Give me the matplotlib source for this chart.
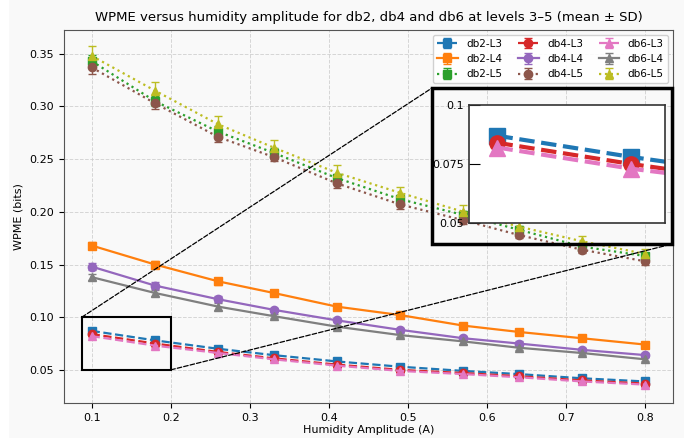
import matplotlib
matplotlib.use("Agg")
import matplotlib.pyplot as plt
from matplotlib.patches import Rectangle, ConnectionPatch

# humidity amplitudes
amps = [0.1, 0.18, 0.26, 0.33, 0.41, 0.49, 0.57, 0.64, 0.72, 0.8]

# mean WPME per wavelet / level
db2_L3 = [0.087, 0.078, 0.070, 0.064, 0.058, 0.053, 0.049, 0.046, 0.042, 0.039]
db2_L4 = [0.168, 0.150, 0.134, 0.123, 0.110, 0.102, 0.092, 0.086, 0.080, 0.074]
db2_L5 = [0.343, 0.305, 0.276, 0.256, 0.232, 0.212, 0.197, 0.183, 0.167, 0.158]
db4_L3 = [0.084, 0.075, 0.067, 0.061, 0.055, 0.050, 0.047, 0.044, 0.040, 0.037]
db4_L4 = [0.148, 0.130, 0.117, 0.107, 0.097, 0.088, 0.080, 0.075, 0.069, 0.064]
db4_L5 = [0.337, 0.303, 0.271, 0.252, 0.227, 0.207, 0.192, 0.178, 0.164, 0.153]
db6_L3 = [0.082, 0.073, 0.066, 0.060, 0.054, 0.049, 0.046, 0.043, 0.039, 0.036]
db6_L4 = [0.138, 0.123, 0.110, 0.101, 0.091, 0.083, 0.077, 0.071, 0.066, 0.060]
db6_L5 = [0.348, 0.315, 0.283, 0.261, 0.237, 0.218, 0.200, 0.186, 0.172, 0.160]

# standard deviations
sd_L3 = [0.002, 0.002, 0.002, 0.002, 0.002, 0.002, 0.002, 0.002, 0.002, 0.002]
sd_L4 = [0.003, 0.003, 0.003, 0.002, 0.002, 0.002, 0.002, 0.002, 0.002, 0.002]
sd_db2_L5 = [0.006, 0.005, 0.005, 0.005, 0.004, 0.004, 0.004, 0.004, 0.003, 0.003]
sd_db4_L5 = [0.006, 0.005, 0.005, 0.004, 0.004, 0.004, 0.004, 0.003, 0.003, 0.003]
sd_db6_L5 = [0.009, 0.008, 0.008, 0.007, 0.007, 0.006, 0.006, 0.005, 0.005, 0.005]

series = [
    ("db2-L3", db2_L3, sd_L3, "s", "--"),
    ("db2-L4", db2_L4, sd_L4, "s", "-"),
    ("db2-L5", db2_L5, sd_db2_L5, "s", ":"),
    ("db4-L3", db4_L3, sd_L3, "o", "--"),
    ("db4-L4", db4_L4, sd_L4, "o", "-"),
    ("db4-L5", db4_L5, sd_db4_L5, "o", ":"),
    ("db6-L3", db6_L3, sd_L3, "^", "--"),
    ("db6-L4", db6_L4, sd_L4, "^", "-"),
    ("db6-L5", db6_L5, sd_db6_L5, "^", ":"),
]

bg = "#f9f9f9"
fig = plt.figure(figsize=(6.84, 4.38), dpi=100, facecolor=bg)
fig.patches.append(Rectangle((0, 0), 0.013, 1, transform=fig.transFigure,
                             facecolor="white", edgecolor="none", zorder=0))
ax = fig.add_axes([0.0936, 0.080, 0.8904, 0.8526], facecolor=bg)

for i, (name, vals, sd, mk, ls) in enumerate(series):
    ax.errorbar(amps, vals, yerr=sd, marker=mk, linestyle=ls, color=f"C{i}",
                markersize=6, linewidth=1.6, capsize=3, elinewidth=1,
                label=name)

ax.set_xlim(0.065, 0.835)
ax.set_ylim(0.0186, 0.373)
ax.set_title("WPME versus humidity amplitude for db2, db4 and db6 at levels 3\u20135 (mean \u00b1 SD)",
             fontsize=9.5, pad=6)
ax.set_xlabel("Humidity Amplitude (A)", fontsize=8, labelpad=2)
ax.set_ylabel("WPME (bits)", fontsize=8)
ax.tick_params(labelsize=8)
ax.grid(True, linestyle="--", color="#cccccc", linewidth=0.7, alpha=0.8)
for s in ax.spines.values():
    s.set_color("#555555")
ax.legend(ncol=3, loc="upper right", fontsize=7.5, framealpha=0.9,
          handlelength=2, columnspacing=1.5, borderpad=0.4)

# zoom box on main axes
x0, x1, y0, y1 = 0.0875, 0.2, 0.05, 0.1
ax.add_patch(Rectangle((x0, y0), x1 - x0, y1 - y0, fill=False,
                       edgecolor="black", linewidth=1.5, zorder=5))

# outer frame around the inset
frame = [0.6316, 0.4429, 0.3509, 0.3562]
fig.patches.append(Rectangle((frame[0], frame[1]), frame[2], frame[3],
                             transform=fig.transFigure, fill=False,
                             edgecolor="black", linewidth=2.5, zorder=10))

# dashed connectors from box to frame
for (xa, ya), (fx, fy) in [((x0, y1), (frame[0], frame[1] + frame[3])),
                           ((x1, y0), (frame[0] + frame[2], frame[1]))]:
    con = ConnectionPatch(xyA=(xa, ya), coordsA=ax.transData,
                          xyB=(fx, fy), coordsB=fig.transFigure,
                          linestyle="--", color="black", linewidth=0.9, zorder=6)
    fig.add_artist(con)

# inset
axin = fig.add_axes([0.6857, 0.491, 0.2865, 0.269], facecolor="white", zorder=11)
for i, (name, vals, sd, mk, ls) in enumerate(series):
    axin.errorbar(amps, vals, yerr=sd, marker=mk, linestyle=ls, color=f"C{i}",
                  markersize=11, linewidth=3, capsize=4, elinewidth=2)
axin.set_xlim(0.083, 0.2)
axin.set_ylim(0.05, 0.1)
axin.set_xticks([])
axin.set_yticks([0.05, 0.075, 0.1])
axin.set_yticklabels(["0.05", "0.075", "0.1"])
axin.tick_params(axis="y", direction="in", length=8, labelsize=8)
for s in axin.spines.values():
    s.set_color("#333333")
    s.set_linewidth(1.2)

fig.savefig("out.png", dpi=100, facecolor=bg)
